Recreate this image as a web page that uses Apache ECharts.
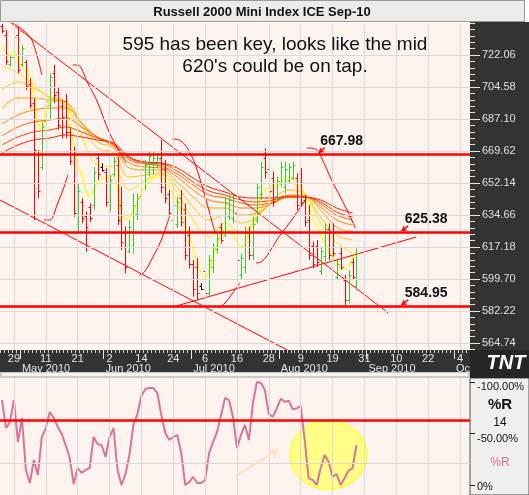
<!DOCTYPE html>
<html>
<head>
<meta charset="utf-8">
<title>Russell 2000 Mini Index ICE Sep-10</title>
<script src="https://cdn.jsdelivr.net/npm/echarts@6/dist/echarts.min.js"></script>
<style>
  html, body { margin: 0; padding: 0; background: #fff; }
  #chart { width: 529px; height: 495px; }
</style>
</head>
<body>
<div id="chart"></div>
<script>
// axis: every weekday from this date (the contract printed bars on US holidays too)
const firstDay = "2010-04-26";
const dayCount = 118;
const monthNames = ["Jan", "Feb", "Mar", "Apr", "May", "Jun", "Jul", "Aug", "Sep", "Oct", "Nov", "Dec"];

// daily OHLC, one entry per bar from Apr 26
const barOpen = [738,733,717,721,733,717,718,706,696,668,661,686,695,712,702,694,697,680,668,630,
  642,634,639,640,666,661,658,640,657,662,640,625,615,626,635,645,652,658,661,662,
  666,660,646,632,630,644,638,624,608,606,596,604,592,606,616,628,624,634,633,636,
  602,606,625,613,632,646,666,660,655,645,652,650,654,655,655,657,643,632,618,618,
  604,612,627,626,601,614,599,588,609,596];
const barHigh = [739,735.7,722.1,734.3,737.5,727.5,719.3,709.3,698.4,670.2,685.6,699.7,712.0,716.6,704.8,697.5,700.8,682.0,672.0,652.0,
  643.8,636.5,641.0,661.1,668.3,662.9,660.2,656.5,666.5,666.5,650.1,628.3,631.9,646.5,646.5,662.9,664.7,669.3,669.3,668.3,
  675.6,664.7,648.3,642.9,644.7,648.3,641.0,628.3,610.1,611.0,597.3,611.9,612.8,619.2,624.6,630.1,644.7,645.6,646.5,639.2,
  613.7,628.3,628.3,633.8,652.0,663.8,671.1,662.9,658.3,655.6,663.8,663.8,662.9,663.8,657.4,660.2,645.6,640.0,620.1,621.0,
  617.4,630.1,630.1,630.1,610.1,617.4,601.9,604.6,611.0,616.5];
const barLow = [733.9,716.6,715.7,719.3,712.0,715.7,702.9,692.9,631.9,643.8,659.2,684.7,686.6,695.7,681.1,676.5,676.5,662.0,633.7,624.6,
  630.1,614.6,631.0,637.4,653.8,658.3,639.2,636.5,655.6,629.2,615.5,602.8,613.7,613.7,631.9,642.9,648.3,655.6,656.5,660.2,
  646.5,641.0,633.7,629.2,627.4,628.3,610.1,605.5,590.1,588.2,593.7,584.6,590.1,602.8,613.7,619.2,622.8,631.9,630.1,606.4,
  599.2,602.8,610.1,610.1,630.1,642.9,654.7,644.7,639.2,642.9,650.1,646.5,651.9,653.8,637.4,639.2,628.3,610.1,605.5,606.4,
  601.9,609.2,610.1,611.9,599.2,604.6,585.5,586.4,599.2,593.7];
const barClose = [735,719,721,732,714,726,705,695,670,648,683,697,710,700,684,688,680,664,636,648,
  633,628,633,658,657,659,642,654,664,632,620,606,628,640,644,660,662,667,666,666,
  650,644,636,640,642,631,613,608,594,592,594.5,592,610,617,622,621,642,643,644,610,
  611,625,613,630,650,661,658,648,642,653,661,660,661,662,640,642,631,613,608,609,
  615,627,613,614,608,606,588,602,601,614];
const flatDays = [25, 50]; // holiday sessions, drawn black

const levels = [667.98, 625.38, 584.95];
const priceTicks = [722.06, 704.58, 687.10, 669.62, 652.14, 634.66, 617.18, 599.70, 582.22, 564.74];

// moving-average ribbon, fast (yellow) to slow (red)
const ma1Idx = [0,2,3,4,6,7,8,9,10,11,12,14,16,17,18,19,20,22,24,26,28,29,31,33,35,37,39,41,43,45,47,49,51,52,54,56,58,60,62,64,66,68,70,72,74,76,78,80,82,84,86,88,89];
const ma1 = [726.97,722.06,724.79,718.23,713.86,711.13,700.21,685.46,681.09,690.92,696.38,698.02,695.84,686.55,672.90,661.97,656.51,644.49,652.68,654.87,
  656.51,648.31,631.93,636.30,647.22,653.23,655.42,653.23,645.58,636.30,623.73,608.99,600.25,604.62,618.27,627.56,623.73,617.18,624.83,638.44,
  648.31,650.50,653.78,655.42,652.68,645.58,633.56,623.73,615.54,608.99,604.62,611.17,615.54];
const ribbonIdx = [0,4,8,12,16,20,24,28,32,36,40,44,48,52,56,60,64,68,72,76,80,84,88];
const ma2 = [716.05,712.23,705.67,698.57,694.74,677.27,661.97,660.88,648.31,653.78,656.51,646.68,631.93,622.64,630.29,624.83,633.56,648.31,652.14,646.68,630.29,619.36,613.90];
const ma3 = [702.94,707.31,704.03,699.11,696.38,682.73,671.26,668.53,655.42,656.51,657.60,649.95,639.03,631.93,634.66,630.29,633.56,642.85,648.31,645.58,633.56,623.73,620.99];
const ma4 = [693.10,698.57,698.57,697.48,696.38,684.91,674.54,671.26,660.33,659.24,659.24,652.68,644.49,638.49,638.49,634.66,635.75,641.21,645.58,645.04,637.39,628.10,625.37];
const ma5 = [684.37,689.28,692.01,693.10,693.10,684.91,676.72,672.35,663.06,660.88,660.33,655.42,648.31,642.85,641.21,638.49,638.49,641.21,644.49,644.49,639.03,631.93,629.20];
const ma6 = [677.81,682.73,685.46,686.55,687.64,682.73,677.27,672.90,664.70,662.52,661.42,657.05,651.05,645.58,643.95,641.21,640.12,641.76,644.49,644.49,640.67,634.66,631.93];
const ma7 = [672.90,677.27,680.00,681.09,682.73,680.00,676.72,673.44,665.79,663.06,662.52,658.69,652.68,647.77,645.58,642.85,641.76,642.85,644.49,644.49,641.76,636.30,633.56];
const ma8 = [668.53,672.90,675.63,676.72,678.36,677.27,675.63,673.99,666.34,663.61,663.06,660.33,654.87,649.95,647.22,644.49,643.95,643.95,645.04,644.49,642.85,638.49,635.75];
const ribbonColors = ["#FFFF00", "#FFE600", "#FFC400", "#FFA200", "#FF8400", "#FF6400", "#FF4200", "#FF1E00"];

// hand-drawn trend lines and arcs, [bar, price]
const channelTop = [[2, 740.1], [97, 581.1]];
const channelBottom = [[-0.5, 642.85], [74.5, 557.64]];
const risingLine = [[43.75, 584.95], [104, 622.64]];
const arcMayTop = [[2.75, 739.54], [5.25, 735.71], [7.5, 730.25], [10, 711.13]];
const arcMay = [[17.75, 716.59], [19, 716.59], [21.5, 706.76], [23.75, 697.48], [27, 679.45], [30.25, 666.34], [31.25, 663.06]];
const arcJuly = [[42.75, 676.17], [44.5, 675.63], [46, 672.9], [47.5, 667.44], [48.75, 660.88], [50, 652.14], [51.25, 642.85], [52.75, 630.83], [53.5, 625.37]];
const arcLowMay = [[10.5, 631.93], [12, 631.93], [14, 641.21], [15.5, 649.41], [16.5, 656.51]];
const arcLowJune = [[34.5, 601.88], [35.75, 603.52], [37.5, 610.08], [40, 620.99], [42, 633.56]];
const arcLowJuly = [[54.5, 583.86], [56, 586.59], [57.75, 591.51], [59.75, 597.51]];
const arcLowAug = [[63.75, 608.44], [65, 608.99], [66.5, 612.27], [69.5, 622.64], [72.75, 631.93], [76.5, 643.95]];
const arcAug = [[76.5, 671.26], [78.75, 670.71], [80.25, 665.79], [82.75, 653.78], [86.25, 639.03], [88.75, 627.56]];

// Williams %R (14), position within its panel, one value per bar
const pctR = [82.5,55.3,61.2,82.5,41.7,65,14.6,1.9,24.3,9.7,46.6,55.3,70.9,65,56.3,49.5,38.8,26.2,1,16.5,
  11.7,14.6,16.5,46.6,39.8,38.8,27.2,46.6,55.3,14.6,0,10.7,29.1,58.3,68.9,86.4,93.2,94.2,94.2,89.3,
  68,50.5,43.7,46.6,48.5,31.1,0,2.9,7.8,1.9,1.9,4.9,31.1,41.7,51.5,68,84.5,82.5,66,35.9,
  48.5,58.3,43.7,79.6,100,99,92.2,68.9,66.3,74.4,83.8,80.9,81.9,73.5,74.4,76.7,43.7,6.5,4.9,0,
  16.2,29.1,22.6,8.1,10.7,0,6.5,13.9,16.2,38.8];
const pctRLevel = 63;
const pctRTicks = [100, 50, 0];

const FONT = "'Liberation Sans', Arial, sans-serif";

const days = [];
for (let d = new Date(firstDay + "T00:00:00Z"); days.length < dayCount; d.setUTCDate(d.getUTCDate() + 1)) {
  const wd = d.getUTCDay();
  if (wd !== 0 && wd !== 6) days.push(d.toISOString().slice(0, 10));
}
const isDayLabel = i => i % 8 === 3;
const isMonthStart = i => i > 0 && days[i].slice(5, 7) !== days[i - 1].slice(5, 7);
const gridDays = days.map((d, i) => i).filter(isDayLabel);

const majorStep = priceTicks[0] - priceTicks[1];
const minorTicks = [];
for (let v = priceTicks[priceTicks.length - 1] - majorStep; v < 740; v += majorStep / 5) minorTicks.push(+v.toFixed(3));

const pair = (idx, vals) => vals.map((v, k) => [idx[k], v]);
const bars = barOpen.map((o, i) => [i, o, barHigh[i], barLow[i], barClose[i]]);

function thinLine(data, smooth) {
  return {
    type: "line", xAxisIndex: 2, yAxisIndex: 0, data: data,
    smooth: smooth ? 0.35 : false, showSymbol: false, silent: true,
    lineStyle: { color: "#ff0000", width: 1 }, z: 3
  };
}

function renderBar(params, api) {
  const i = api.value(0);
  const o = api.coord([i, api.value(1)]);
  const h = api.coord([i, api.value(2)]);
  const l = api.coord([i, api.value(3)]);
  const c = api.coord([i, api.value(4)]);
  const x = Math.round(h[0]) + 0.5;
  const color = flatDays.includes(i) ? "#000" : (api.value(4) >= api.value(1) ? "#33CC33" : "#FF0000");
  const style = { stroke: color, lineWidth: 1 };
  const oy = Math.round(o[1]) + 0.5;
  const cy = Math.round(c[1]) + 0.5;
  return {
    type: "group",
    children: [
      { type: "line", shape: { x1: x, y1: h[1], x2: x, y2: l[1] }, style: style },
      { type: "line", shape: { x1: x - 2, y1: oy, x2: x, y2: oy }, style: style },
      { type: "line", shape: { x1: x, y1: cy, x2: x + 2, y2: cy }, style: style }
    ]
  };
}

const ribbon = [ma2, ma3, ma4, ma5, ma6, ma7, ma8].map((vals, k) => ({
  type: "line", xAxisIndex: 2, yAxisIndex: 0, data: pair(ribbonIdx, vals),
  smooth: 0.4, showSymbol: false, silent: true,
  lineStyle: { color: ribbonColors[k + 1], width: 1 }, z: 2
}));
ribbon.unshift({
  type: "line", xAxisIndex: 2, yAxisIndex: 0, data: pair(ma1Idx, ma1),
  smooth: 0.4, showSymbol: false, silent: true,
  lineStyle: { color: ribbonColors[0], width: 1.2 }, z: 2
});

const pctLabelRich = {
  a: { color: "#111", fontSize: 11, fontFamily: FONT, padding: [10, 0, 0, 0] },
  b: { color: "#111", fontSize: 11, fontFamily: FONT, padding: [4, 0, 0, 0] }
};

const chart = echarts.init(document.getElementById("chart"));
chart.setOption({
  animation: false,
  grid: [
    { left: 0, top: 23, width: 470, height: 327, show: true, backgroundColor: "#FDF3EE", borderWidth: 0 },
    { left: 0, top: 378, width: 470, height: 117, show: true, backgroundColor: "#FDF3EE", borderWidth: 0 }
  ],
  graphic: [
    { type: "rect", z: 5, shape: { x: 0.5, y: 0.5, width: 524, height: 21 }, style: { fill: "#ebebeb", stroke: "#9a9a9a", lineWidth: 1 } },
    { type: "text", z: 6, x: 262, y: 12, style: { text: "Russell 2000 Mini Index ICE Sep-10", font: "bold 13px " + FONT, fill: "#111", align: "center", verticalAlign: "middle", textAlign: "center", textVerticalAlign: "middle" } },
    { type: "rect", z: 5, shape: { x: 470, y: 22, width: 59, height: 328 }, style: { fill: "#333333" } },
    { type: "rect", z: 5, shape: { x: 0, y: 350, width: 470, height: 22 }, style: { fill: "#333333" } },
    { type: "rect", z: 5, shape: { x: 0, y: 372, width: 470, height: 6 }, style: { fill: "#c8c8c8" } },
    { type: "rect", z: 5, shape: { x: 2, y: 373, width: 466, height: 3 }, style: { fill: "#f4f4f4" } },
    { type: "rect", z: 5, shape: { x: 470, y: 378, width: 59, height: 117 }, style: { fill: "#efefef", stroke: "#555", lineWidth: 1 } },
    { type: "rect", z: 11, shape: { x: 470, y: 350, width: 59, height: 28 }, style: { fill: "#262626" } },
    { type: "text", z: 12, x: 506, y: 363, style: { text: "TNT", font: "italic 900 20px " + FONT, fill: "#ffffff", align: "center", verticalAlign: "middle", textAlign: "center", textVerticalAlign: "middle" } },
    { type: "text", z: 6, x: 275, y: 45, style: { text: "595 has been key, looks like the mid", font: "19px " + FONT, fill: "#111", align: "center", verticalAlign: "middle", textAlign: "center", textVerticalAlign: "middle" } },
    { type: "text", z: 6, x: 275, y: 67, style: { text: "620's could be on tap.", font: "19px " + FONT, fill: "#111", align: "center", verticalAlign: "middle", textAlign: "center", textVerticalAlign: "middle" } },
    { type: "text", z: 6, x: 500, y: 405, style: { text: "%R", font: "bold 15px " + FONT, fill: "#111", align: "center", verticalAlign: "middle", textAlign: "center", textVerticalAlign: "middle" } },
    { type: "text", z: 6, x: 500, y: 423, style: { text: "14", font: "12px " + FONT, fill: "#111", align: "center", verticalAlign: "middle", textAlign: "center", textVerticalAlign: "middle" } },
    { type: "text", z: 6, x: 500, y: 463, style: { text: "%R", font: "12px " + FONT, fill: "#DB7093", align: "center", verticalAlign: "middle", textAlign: "center", textVerticalAlign: "middle" } }
  ],
  xAxis: [
    {
      type: "category", gridIndex: 0, data: days, position: "bottom", z: 10,
      axisLine: { show: false },
      axisTick: { show: true, interval: 0, length: 3, lineStyle: { color: "#cfcfcf" } },
      axisLabel: { interval: isDayLabel, formatter: v => String(+v.slice(8)), color: "#e4e4e4", fontSize: 11, fontFamily: FONT, margin: 3 },
      splitLine: { show: false }
    },
    {
      type: "category", gridIndex: 0, data: days, position: "bottom", z: 10,
      axisLine: { show: false },
      axisTick: { show: true, interval: isMonthStart, length: 9, lineStyle: { color: "#e4e4e4" } },
      axisLabel: { interval: isMonthStart, formatter: v => monthNames[+v.slice(5, 7) - 1] + " 2010", align: "left", color: "#e4e4e4", fontSize: 11, fontFamily: FONT, margin: 13 },
      splitLine: { show: false }
    },
    { type: "value", gridIndex: 0, min: -0.5, max: dayCount - 0.5, show: false },
    { type: "value", gridIndex: 1, min: -0.5, max: dayCount - 0.5, show: false }
  ],
  yAxis: [
    {
      type: "value", gridIndex: 0, position: "right", min: 560.92, max: 739.54, z: 10,
      axisLine: { show: false, onZero: false }, splitLine: { show: false },
      axisTick: { show: true, customValues: priceTicks, length: 10, lineStyle: { color: "#e8e8e8" } },
      axisLabel: { customValues: priceTicks, formatter: v => v.toFixed(2), color: "#e0e0e0", fontSize: 11, fontFamily: FONT, margin: 12 }
    },
    {
      type: "value", gridIndex: 0, position: "right", min: 560.92, max: 739.54, z: 10,
      axisLine: { show: false, onZero: false }, splitLine: { show: false }, axisLabel: { show: false },
      axisTick: { show: true, customValues: minorTicks, length: 5, lineStyle: { color: "#e8e8e8" } }
    },
    {
      type: "value", gridIndex: 1, position: "right", min: -9.7, max: 103.9, z: 10,
      axisLine: { show: false, onZero: false }, splitLine: { show: false },
      axisTick: { show: true, customValues: pctRTicks, length: 5, lineStyle: { color: "#222" } },
      axisLabel: {
        customValues: pctRTicks, margin: 7, rich: pctLabelRich,
        formatter: v => v === 0 ? "{b|0%}" : "{a|-" + v.toFixed(2) + "%}"
      }
    }
  ],
  series: [
    {
      // grid lines
      type: "line", xAxisIndex: 2, yAxisIndex: 0, data: [], silent: true, z: 1,
      markLine: {
        silent: true, symbol: "none", label: { show: false },
        lineStyle: { color: "#d9d9d9", width: 1, type: "solid" },
        data: gridDays.map(i => ({ xAxis: i })).concat(priceTicks.map(v => ({ yAxis: v })))
      }
    },
    {
      type: "line", xAxisIndex: 3, yAxisIndex: 2, data: [], silent: true, z: 1,
      markLine: {
        silent: true, symbol: "none", label: { show: false },
        lineStyle: { color: "#d9d9d9", width: 1, type: "solid" },
        data: gridDays.map(i => ({ xAxis: i })).concat([{ yAxis: 21.4 }])
      }
    },
    ...ribbon,
    thinLine(channelTop), thinLine(channelBottom), thinLine(risingLine),
    thinLine(arcMayTop, true), thinLine(arcMay, true), thinLine(arcJuly, true),
    thinLine(arcLowMay, true), thinLine(arcLowJune, true), thinLine(arcLowJuly, true),
    thinLine(arcLowAug, true), thinLine(arcAug, true),
    {
      type: "custom", xAxisIndex: 2, yAxisIndex: 0, data: bars, renderItem: renderBar,
      encode: { x: 0, y: [1, 2, 3, 4] }, clip: true, silent: true, z: 4
    },
    {
      // support / resistance levels and their labels
      type: "line", xAxisIndex: 2, yAxisIndex: 0, data: [], silent: true, z: 5,
      markLine: {
        silent: true, symbol: "none", label: { show: false },
        lineStyle: { color: "#ff0000", width: 2.5, type: "solid" },
        data: levels.map(v => ({ yAxis: v }))
      },
      markPoint: {
        silent: true, symbolSize: 0,
        label: { show: true, color: "#111", fontWeight: "bold", fontSize: 14, fontFamily: FONT, formatter: p => p.value.toFixed(2), offset: [0, -13] },
        data: [
          { coord: [85.25, levels[0]], value: levels[0] },
          { coord: [106.5, levels[1]], value: levels[1] },
          { coord: [106.5, levels[2]], value: levels[2] }
        ]
      }
    },
    {
      type: "line", xAxisIndex: 2, yAxisIndex: 0, data: [], silent: true, z: 5,
      markLine: {
        silent: true, symbol: ["none", "arrow"], symbolSize: 5, label: { show: false },
        lineStyle: { color: "#ff0000", width: 1.5, type: "solid" },
        data: [
          [{ coord: [81, levels[0] + 3.5] }, { coord: [79.5, levels[0] + 0.6] }],
          [{ coord: [102, levels[1] + 3.3] }, { coord: [100.3, levels[1] + 0.6] }],
          [{ coord: [102, levels[2] + 3.3] }, { coord: [100.3, levels[2] + 0.6] }]
        ]
      }
    },
    {
      // highlight circle in the %R panel
      type: "scatter", xAxisIndex: 3, yAxisIndex: 2, data: [[82, 29.1]], silent: true, z: 2,
      symbolSize: [77, 69],
      itemStyle: { color: "#FFFF88", borderColor: "#FFFF00", borderWidth: 1, opacity: 1 }
    },
    {
      type: "line", xAxisIndex: 3, yAxisIndex: 2, data: [], silent: true, z: 3,
      markLine: {
        silent: true, symbol: "none", label: { show: false },
        lineStyle: { color: "#ff0000", width: 2.5, type: "solid" },
        data: [{ yAxis: pctRLevel }]
      }
    },
    {
      type: "line", xAxisIndex: 3, yAxisIndex: 2, data: [], silent: true, z: 3,
      markLine: {
        silent: true, symbol: ["none", "arrow"], symbolSize: 9, label: { show: false },
        lineStyle: { color: "#FCE0C4", width: 2, type: "solid" },
        data: [[{ coord: [58.75, 8.7] }, { coord: [69.5, 35] }]]
      }
    },
    {
      type: "line", xAxisIndex: 3, yAxisIndex: 2, data: pctR.map((v, i) => [i, v]),
      showSymbol: false, silent: true, z: 4,
      lineStyle: { color: "#D8739A", width: 2 }
    }
  ]
});
</script>
</body>
</html>
